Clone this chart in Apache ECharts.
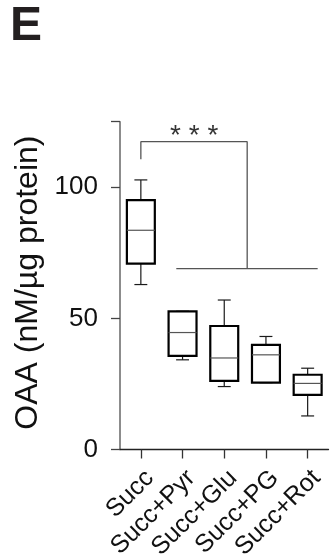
<!DOCTYPE html>
<html><head><meta charset="utf-8">
<script src="https://cdn.jsdelivr.net/npm/echarts@6/dist/echarts.min.js"></script>
<style>html,body{margin:0;padding:0;background:#fff}#c{width:331px;height:559px}</style>
</head><body><div id="c"></div>
<script>
var categories = ['Succ', 'Succ+Pyr', 'Succ+Glu', 'Succ+PG', 'Succ+Rot'];
var whiskerLow = [62.9, 34.2, 24.0, 25.5, 12.8];
var q1 = [70.9, 35.7, 26.2, 25.5, 20.8];
var median = [83.6, 44.6, 34.9, 36.1, 25.2];
var q3 = [95.1, 52.7, 47.1, 39.9, 28.5];
var whiskerHigh = [102.8, 52.7, 57.0, 43.1, 31.0];
var yTicks = [0, 50, 100];
var bracketX = [0, 0, 2.55, 2.55];
var bracketY = [110.7, 117.4, 117.4, 69.0];
var baseX = [0.85, 4.24];
var baseY = [69.0, 69.0];
var starsPos = [1.28, 119.5];
var starsText = '* * *';
var panelLabel = 'E';
var yTitle = 'OAA (nM/µg protein)';

var FONT = '"Liberation Sans", Arial, sans-serif';
var boxData = categories.map(function (c, i) {
  return [i, whiskerLow[i], q1[i], median[i], q3[i], whiskerHigh[i]];
});

function renderBox(params, api) {
  var i = api.value(0);
  var band = api.size([1, 0])[0];
  var x = api.coord([i, 0])[0];
  var yLo = api.coord([i, api.value(1)])[1];
  var yQ1 = api.coord([i, api.value(2)])[1];
  var yMed = api.coord([i, api.value(3)])[1];
  var yQ3 = api.coord([i, api.value(4)])[1];
  var yHi = api.coord([i, api.value(5)])[1];
  var hw = band * 0.335;
  var cw = band * 0.155;
  var thin = { stroke: '#1a1a1a', lineWidth: 1.2 };
  return {
    type: 'group',
    children: [
      { type: 'line', shape: { x1: x, y1: yQ3, x2: x, y2: yHi }, style: thin },
      { type: 'line', shape: { x1: x - cw, y1: yHi, x2: x + cw, y2: yHi }, style: thin },
      { type: 'line', shape: { x1: x, y1: yQ1, x2: x, y2: yLo }, style: thin },
      { type: 'line', shape: { x1: x - cw, y1: yLo, x2: x + cw, y2: yLo }, style: thin },
      { type: 'rect', shape: { x: x - hw, y: yQ3, width: 2 * hw, height: yQ1 - yQ3 },
        style: { fill: '#fff', stroke: '#000', lineWidth: 2.2 } },
      { type: 'line', shape: { x1: x - hw, y1: yMed, x2: x + hw, y2: yMed },
        style: { stroke: '#555', lineWidth: 1.2 } }
    ]
  };
}

var chart = echarts.init(document.getElementById('c'), null, { renderer: 'canvas' });
chart.setOption({
  animation: false,
  grid: { left: 120, right: 2.5, top: 121.7, bottom: 109.5, containLabel: false, outerBoundsMode: 'none' },
  graphic: [
    { type: 'text', left: 10, top: 3,
      style: { text: panelLabel, font: 'bold 48px ' + FONT, fill: '#231f20' } }
  ],
  xAxis: [
    { type: 'category', data: categories, boundaryGap: true,
      axisLine: { onZero: false, lineStyle: { color: '#222', width: 1.3 } },
      axisTick: { show: true, length: 9, alignWithLabel: true, lineStyle: { color: '#333', width: 1.3 } },
      axisLabel: { rotate: 45, interval: 0, margin: 16, fontSize: 25, fontFamily: FONT, color: '#111',
        hideOverlap: false, align: 'right', verticalAlign: 'top' },
      splitLine: { show: false } },
    { type: 'value', min: -0.5, max: 4.5, show: false }
  ],
  yAxis: {
    type: 'value', min: 0, max: 125, interval: 50,
    name: yTitle, nameLocation: 'middle', nameGap: 76, nameRotate: 90,
    nameTextStyle: { fontSize: 32, fontFamily: FONT, color: '#111', padding: [0, 0, 0, 6] },
    axisLine: { show: true, onZero: false, lineStyle: { color: '#666', width: 1.5 } },
    axisTick: { show: true, length: 9, lineStyle: { color: '#444', width: 1.3 } },
    axisLabel: { margin: 22, fontSize: 26, fontFamily: FONT, color: '#111',
      formatter: function (v) { return yTicks.indexOf(v) >= 0 ? String(v) : ''; } },
    splitLine: { show: false }
  },
  series: [
    { type: 'custom', xAxisIndex: 0, renderItem: renderBox, data: boxData,
      encode: { x: 0, y: [1, 2, 3, 4, 5] }, z: 3 },
    { type: 'line', xAxisIndex: 1, symbol: 'none', silent: true,
      data: bracketX.map(function (x, i) { return [x, bracketY[i]]; }),
      lineStyle: { color: '#555', width: 1.3 } },
    { type: 'line', xAxisIndex: 1, symbol: 'none', silent: true,
      data: baseX.map(function (x, i) { return [x, baseY[i]]; }),
      lineStyle: { color: '#555', width: 1.3 } },
    { type: 'scatter', xAxisIndex: 1, symbolSize: 0, silent: true,
      data: [starsPos],
      label: { show: true, position: 'inside', formatter: starsText,
        fontSize: 28, fontFamily: FONT, color: '#000' } }
  ]
});
</script></body></html>
